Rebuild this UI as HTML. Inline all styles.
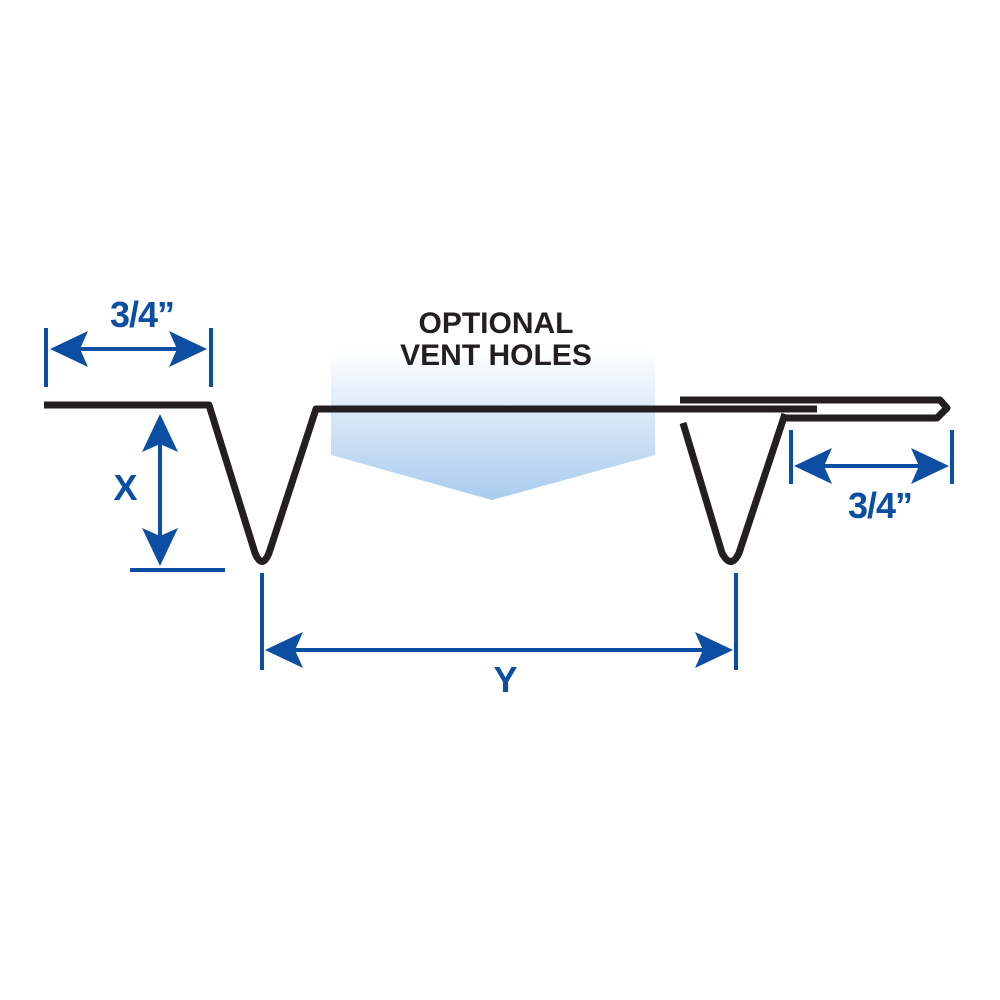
<!DOCTYPE html>
<html><head><meta charset="utf-8"><style>
html,body{margin:0;padding:0;background:#fff;width:1000px;height:1000px;overflow:hidden}
</style></head><body>
<svg width="1000" height="1000" viewBox="0 0 1000 1000" xmlns="http://www.w3.org/2000/svg">
<defs>
<linearGradient id="g" x1="0" y1="0" x2="0" y2="1">
<stop offset="0" stop-color="#ffffff"/>
<stop offset="1" stop-color="#a8cbee"/>
</linearGradient>
<path id="ah" d="M0,0 L-38,-18 L-30,0 L-38,18 Z" fill="#0b4ea2"/>
</defs>
<polygon points="331,350 655,350 655,455 492,500 331,455" fill="url(#g)"/>
<g font-family="Liberation Sans, sans-serif" font-weight="bold" text-anchor="middle">
<text x="496" y="333" font-size="30" fill="#231f20">OPTIONAL</text>
<text x="496" y="365" font-size="30" fill="#231f20">VENT HOLES</text>
<g font-size="36" fill="#0b4ea2" letter-spacing="-1">
<text x="142" y="327">3/4”</text>
<text x="125" y="500">X</text>
<text x="505" y="692">Y</text>
<text x="880" y="518">3/4”</text>
</g>
</g>
<g fill="none" stroke="#231f20" stroke-width="7" stroke-linejoin="round">
<path d="M44,405 L209,405 L255,553 Q262,570 269,553 L316,409 L817,409"/>
<path d="M680,400 L940,400 L947,408 L937,418 L785,418"/>
<path d="M785,414 L739,553 Q731,570 722,553 L683,423"/>
</g>
<g stroke="#0b4ea2" stroke-width="4" fill="none">
<line x1="46" y1="328" x2="46" y2="387"/>
<line x1="211" y1="328" x2="211" y2="387"/>
<line x1="60" y1="349" x2="198" y2="349"/>
<line x1="160" y1="428" x2="160" y2="552"/>
<line x1="130" y1="570" x2="225" y2="570"/>
<line x1="262" y1="573" x2="262" y2="670"/>
<line x1="736" y1="573" x2="736" y2="670"/>
<line x1="275" y1="650" x2="722" y2="650"/>
<line x1="791" y1="430" x2="791" y2="484"/>
<line x1="952" y1="430" x2="952" y2="484"/>
<line x1="805" y1="466" x2="938" y2="466"/>
</g>
<use href="#ah" transform="translate(50,349) rotate(180)"/>
<use href="#ah" transform="translate(207,349)"/>
<use href="#ah" transform="translate(160,414) rotate(-90)"/>
<use href="#ah" transform="translate(160,566) rotate(90)"/>
<use href="#ah" transform="translate(265,650) rotate(180)"/>
<use href="#ah" transform="translate(733,650)"/>
<use href="#ah" transform="translate(794,466) rotate(180)"/>
<use href="#ah" transform="translate(949,466)"/>
</svg>
</body></html>
